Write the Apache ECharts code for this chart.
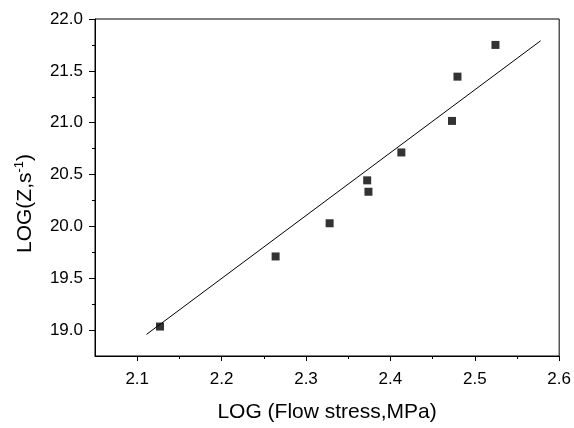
<!DOCTYPE html>
<html>
<head>
<meta charset="utf-8">
<script src="https://cdn.jsdelivr.net/npm/echarts@6/dist/echarts.min.js"></script>
<style>
  html, body { margin: 0; padding: 0; background: #fff; }
  #chart { width: 574px; height: 428px; }
</style>
</head>
<body>
<div id="chart"></div>
<script>
// measured points: log(flow stress) vs log(Z)
let logStress = [2.127, 2.264, 2.328, 2.3725, 2.374, 2.413, 2.473, 2.4795, 2.5245];
let logZ = [19.034, 19.71, 20.03, 20.444, 20.334, 20.713, 21.017, 21.444, 21.75];
// linear fit line end points
let fitX = [2.111, 2.578];
let fitY = [18.958, 21.79];
// ticks
let xMajor = [2.1, 2.2, 2.3, 2.4, 2.5, 2.6];
let xMinor = [2.15, 2.25, 2.35, 2.45, 2.55];
let yMajor = [19.0, 19.5, 20.0, 20.5, 21.0, 21.5, 22.0];
let yMinor = [19.25, 19.75, 20.25, 20.75, 21.25, 21.75];

let fontFamily = '"Liberation Sans", Arial, sans-serif';

let chart = echarts.init(document.getElementById('chart'));

function majorX() {
    return {
        type: 'value',
        position: 'bottom',
        min: 2.05,
        max: 2.6,
        name: 'LOG (Flow stress,MPa)',
        nameLocation: 'middle',
        nameGap: 46,
        nameTextStyle: { color: '#000', fontSize: 21, fontFamily: fontFamily },
        axisLine: { show: true, onZero: false, lineStyle: { color: '#000', width: 1 } },
        axisTick: { show: true, customValues: xMajor, length: 5, lineStyle: { color: '#000' } },
        axisLabel: {
            customValues: xMajor, color: '#000', fontSize: 17, fontFamily: fontFamily, margin: 15,
            formatter: function (v) { return v.toFixed(1); }
        },
        splitLine: { show: false }
    };
}

function minorX() {
    return {
        type: 'value',
        position: 'bottom',
        min: 2.05,
        max: 2.6,
        axisLine: { show: false, onZero: false },
        axisTick: { show: true, customValues: xMinor, length: 3, lineStyle: { color: '#000' } },
        axisLabel: { show: false },
        splitLine: { show: false }
    };
}

function majorY() {
    return {
        type: 'value',
        position: 'left',
        min: 18.75,
        max: 22.0,
        name: 'LOG(Z,s{sup|-1})',
        nameLocation: 'middle',
        nameGap: 57,
        nameTextStyle: {
            color: '#000', fontSize: 21, fontFamily: fontFamily,
            padding: [0, 32, 0, 0],
            rich: {
                sup: { fontSize: 13, fontFamily: fontFamily, color: '#000', verticalAlign: 'top', padding: [0, 0, 12, 0] }
            }
        },
        axisLine: { show: true, onZero: false, lineStyle: { color: '#000', width: 1 } },
        axisTick: { show: true, customValues: yMajor, length: 6, lineStyle: { color: '#000' } },
        axisLabel: {
            customValues: yMajor, color: '#000', fontSize: 17, fontFamily: fontFamily, margin: 12,
            formatter: function (v) { return v.toFixed(1); }
        },
        splitLine: { show: false }
    };
}

function minorY() {
    return {
        type: 'value',
        position: 'left',
        min: 18.75,
        max: 22.0,
        axisLine: { show: false, onZero: false },
        axisTick: { show: true, customValues: yMinor, length: 3, lineStyle: { color: '#000' } },
        axisLabel: { show: false },
        splitLine: { show: false }
    };
}

let points = logStress.map(function (x, i) { return [x, logZ[i]]; });
let fitLine = fitX.map(function (x, i) { return [x, fitY[i]]; });

chart.setOption({
    animation: false,
    backgroundColor: '#fff',
    grid: {
        left: 95, right: 14, top: 19, bottom: 66,
        show: true, borderColor: '#000', borderWidth: 1, backgroundColor: 'transparent'
    },
    xAxis: [majorX(), minorX()],
    yAxis: [majorY(), minorY()],
    series: [
        {
            type: 'line',
            data: fitLine,
            showSymbol: false,
            symbol: 'none',
            lineStyle: { color: '#000', width: 1 },
            z: 2
        },
        {
            type: 'scatter',
            data: points,
            symbol: 'rect',
            symbolSize: 8,
            itemStyle: { color: '#000' },
            z: 3
        }
    ]
});

window.addEventListener('resize', function () { chart.resize(); });
</script>
</body>
</html>
